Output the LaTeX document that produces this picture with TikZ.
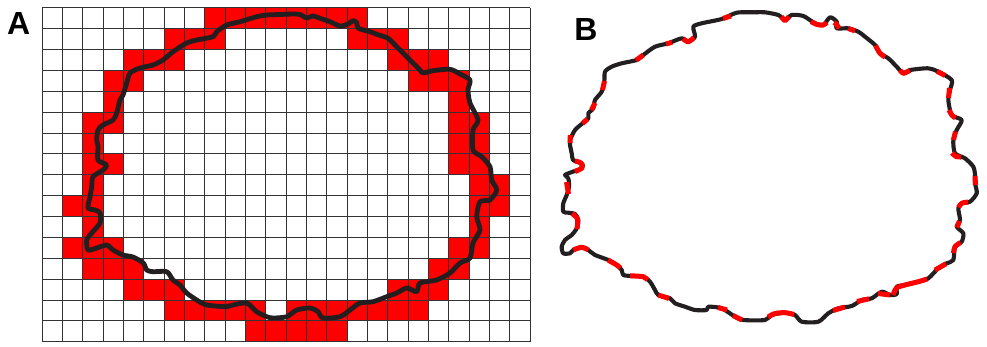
\documentclass[tikz,border=0pt]{standalone}
\usepackage{fontspec}
\setmainfont{Liberation Sans}
\definecolor{curve}{HTML}{231F20}
\definecolor{cellred}{HTML}{FF0000}
\begin{document}
\begin{tikzpicture}[x=1pt,y=-1pt,
  lbl/.style={inner sep=0pt,font=\fontsize{32}{32}\selectfont\bfseries},
  gridline/.style={draw=black!80,line width=0.9pt},
  outline/.style={draw=curve,line width=4.8pt,line join=round,line cap=round},
  outlineB/.style={draw=curve,line width=4.1pt,line join=round,line cap=round},
  redseg/.style={draw=cellred,line width=5pt,line cap=butt,line join=round}]
\useasboundingbox (0,0) rectangle (987,346);
\fill[white] (0,0) rectangle (987,346);
% ---------- Panel A ----------
\def\xo{42.3}\def\yo{7.7}\def\cw{20.32}\def\ch{20.875}
\foreach \r/\cs in {0/{8,9,10,11,12,13,14,15},
                    1/{6,7,8,15,16,17},
                    2/{4,5,6,17,18,19},
                    3/{3,4,18,19,20},
                    4/{3,20},
                    5/{2,3,20,21},
                    6/{2,20,21},
                    7/{2,3,20,21},
                    8/{2,21,22},
                    9/{1,2,21,22},
                    10/{2,21},
                    11/{1,2,3,20,21},
                    12/{2,3,4,19,20},
                    13/{4,5,6,17,18,19},
                    14/{6,7,8,9,10,12,13,14,15,16,17,18},
                    15/{10,11,12,13,14}}{
  \foreach \c in \cs {
    \fill[cellred] ({\xo+\c*\cw},{\yo+\r*\ch}) rectangle +(\cw,\ch);
  }
}
\foreach \i in {0,...,24}{
  \draw[gridline] ({\xo+\i*\cw},\yo) -- ({\xo+\i*\cw},{\yo+16*\ch});
}
\foreach \j in {0,...,16}{
  \draw[gridline] (\xo,{\yo+\j*\ch}) -- ({\xo+24*\cw},{\yo+\j*\ch});
}
\draw[outline] plot[smooth cycle,tension=0.45] coordinates {
 (256.7,16.7) (266.7,15) (280,14.5) (293,14) (300,14.5) (306.7,18) (313,16) (322,19)
 (330,21.7) (340,26) (348,24) (353,20.7) (356.7,22.7) (358.3,28.3) (370,31.7) (376.7,34.3)
 (388,38.3) (396.7,46.7) (403,53) (411.7,61.7) (420,70) (423,73) (433,70.7) (450,69.3)
 (460,74) (470,80) (468,90) (470,103) (478,120) (473,130) (473,150) (481.7,156.7)
 (490,166.7) (491.7,180) (496.7,190) (490,200) (480,201.7) (476.7,216.7) (480,230)
 (473,243) (470,258) (460,263) (450,273) (436.7,280) (420,283) (416.7,291.7) (406.7,288)
 (396.7,293) (386.7,296.7) (373,301.7) (360,303) (350,310) (340,316.7) (323,318)
 (318,311.7) (310,308) (296.7,310) (286.7,316.7) (273,318) (266.7,316.7) (256.7,311.7)
 (246.7,303) (233,305) (226.7,306.7) (206.7,305) (196.7,300) (186.7,293) (180,285)
 (173,280) (166.7,271.7) (153,271.7) (146.7,270) (143.3,263) (133,257) (123,255)
 (113,250) (106.7,245) (96.7,248) (88,250) (86.7,240) (91.7,233) (100,223) (100,213)
 (95,210) (88,208) (90,196.7) (91.7,186.7) (93,176.7) (103,170) (106.7,165) (98,160)
 (98,146.7) (96.7,140) (98,130) (103,125) (113,120) (116.7,113) (120,100) (123,95)
 (126.7,83) (130,73) (140,68) (153,65) (163,60) (173,51.7) (186.7,43) (196.7,40)
 (213,36.7) (216.7,31.7) (226.7,25) (240,21.7)};
\node[lbl] (labA) at (18.7,23.3) {A};
% ---------- Panel B ----------
\draw[outlineB] plot[smooth cycle,tension=0.45] coordinates {
 (565,175) (572,172) (580,169) (583,165) (578,162) (573,160) (571.7,153.3) (570,145)
 (570,140) (575,130) (581.7,124) (588.3,118.3) (588.3,113.3) (593.3,108.3) (595,100)
 (601.7,91.7) (604.3,81.7) (605,71.7) (611.7,66.7) (621.7,63.3) (636.7,60) (643.3,55)
 (655,46.7) (668.3,43.3) (681.7,38.3) (688.3,41.7) (695,36.7) (693.3,26.7) (701.7,23.3)
 (721.7,19) (736.7,12.7) (755,12.3) (765,12.3) (778.3,15) (785,20) (791.7,15) (803.3,16)
 (815,23.3) (823.3,25) (830,17.3) (836.7,21.7) (836.7,28.3) (848.3,28.3) (858.3,31.7)
 (865,36.7) (875,45) (880,53.3) (888.3,58.3) (896.7,66.7) (903.3,73.3) (910,70)
 (928.3,68.3) (938.3,71.7) (951.7,80) (950,90) (948.3,100) (951.7,115) (961.7,120)
 (956.7,130) (953.3,140) (955,153.3) (965,158.3) (973.3,166.7) (975,175) (975,183.3)
 (976.7,193.3) (970,201.7) (961.7,203.3) (958.3,208.3) (960,220) (956.7,226.7)
 (963.3,233.3) (961.7,241.7) (955,246.7) (953.3,260) (946.7,263.3) (938.3,268.3)
 (928.3,278.3) (918.3,281.7) (905,285) (896.7,286.7) (896.7,294) (890,295) (881.7,291.7)
 (871.7,298.3) (861.7,300) (851.7,306) (838.3,308.3) (828.3,313.3) (818.3,321.7)
 (801.7,321.7) (795,315) (785,312.7) (771.7,315) (765,320) (743.3,320) (735,316.7)
 (721.7,308.3) (708.3,306.7) (706.7,310) (695,310) (685,306.7) (675,303.3) (670,298.3)
 (658.3,295) (655,290) (650,281.7) (643.3,276.7) (631.7,276) (623.3,275) (621.7,270)
 (616.7,265) (608.3,260) (595,255) (588.3,250) (581.7,247.3) (573.3,250) (570,253.3)
 (563.3,253.3) (561.7,246.7) (565,240) (571.7,235) (576.7,228.3) (578.3,220) (575,214)
 (568.3,212.7) (563.3,211.7) (563.3,203.3) (566.7,195) (569,186.7) (568.3,178.3)};
% red pieces along the outline
\foreach \seg in {
 {(723,18.5) (731,16)},
 {(683,38.8) (688.3,41.7) (694,37.5)},
 {(666,44) (672,42.3)},
 {(636,60.2) (643.3,55)},
 {(602.5,90) (604.5,81)},
 {(591.5,110) (595,103)},
 {(582.5,123.5) (587.5,119)},
 {(570.3,135) (570,143)},
 {(575,161) (581,163) (582,168) (575,171.5)},
 {(566.5,182) (568.5,194)},
 {(572,213.5) (577.5,219) (577,229)},
 {(573.3,250) (581.7,247.3) (588.3,250)},
 {(608,260) (616.7,265) (620.5,268)},
 {(630,275.8) (643.3,276.7) (647.5,280)},
 {(658.3,295) (669,298.5)},
 {(718,307.5) (727,310)},
 {(733,315.5) (742,320)},
 {(768,317) (775,313.5) (785,312.7) (794,314.5)},
 {(833,310.5) (845,307)},
 {(857,301.5) (869,298.8)},
 {(878,293.5) (890,295)},
 {(893,295) (896.5,288) (905,285) (918.3,281.7) (927,279)},
 {(935,270) (946,263.8)},
 {(960.5,242.5) (955,246.7) (953.5,253)},
 {(959.5,221) (957,227.5)},
 {(958.5,207.5) (961.7,203.3) (968,202)},
 {(975,176) (975.5,185)},
 {(952,153) (956,156.5) (961,157)},
 {(955.5,131.5) (953.5,140)},
 {(949,110) (951.7,115) (955.5,118)},
 {(949.5,88) (948.5,98)},
 {(937,71.3) (945,75.5)},
 {(900,70) (903.3,73.3) (910,70.5)},
 {(875.5,45.5) (880,53.3) (885,57)},
 {(848.3,28.6) (855,30.8)},
 {(834,22.5) (836.7,24.5) (839,28.5)},
 {(811,21.5) (817,24.5) (823.3,25) (826.5,22.5)},
 {(781.5,16.5) (785,20.5) (789,16.5)}}{
  \draw[redseg] plot[smooth,tension=0.5] coordinates \seg;
}
\node[lbl] (labB) at (586,29) {B};
\end{tikzpicture}
\end{document}
